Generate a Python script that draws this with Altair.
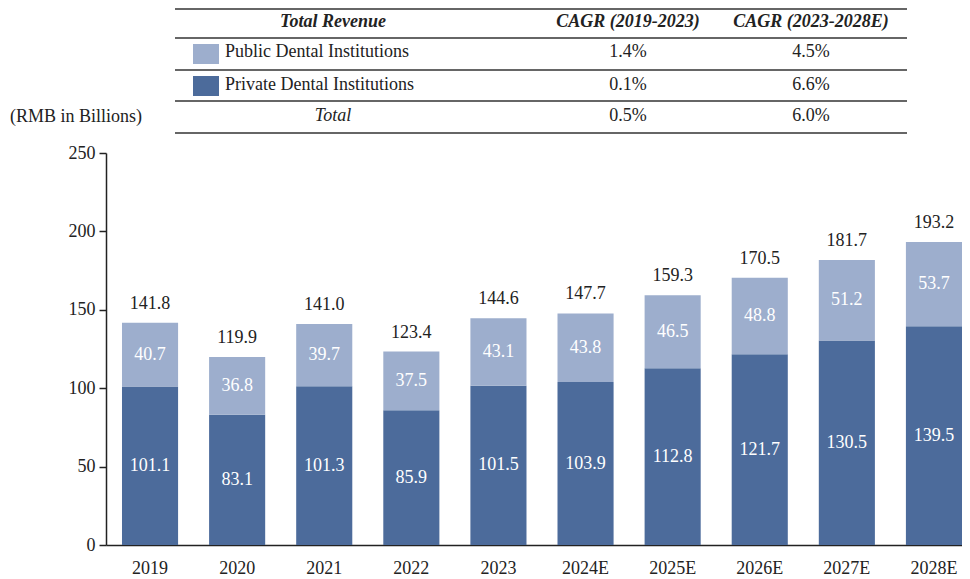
import altair as alt
import pandas as pd

# ---------------- data ----------------
years = ["2019", "2020", "2021", "2022", "2023", "2024E", "2025E", "2026E", "2027E", "2028E"]
private = [101.1, 83.1, 101.3, 85.9, 101.5, 103.9, 112.8, 121.7, 130.5, 139.5]
public = [40.7, 36.8, 39.7, 37.5, 43.1, 43.8, 46.5, 48.8, 51.2, 53.7]
totals = [141.8, 119.9, 141.0, 123.4, 144.6, 147.7, 159.3, 170.5, 181.7, 193.2]

segments = ["Public Dental Institutions", "Private Dental Institutions"]
seg_colors = ["#9daecd", "#4c6b9b"]

table_header = ["Total Revenue", "CAGR (2019-2023)", "CAGR (2023-2028E)"]
table_rows = ["Public Dental Institutions", "Private Dental Institutions", "Total"]
cagr_2019_2023 = ["1.4%", "0.1%", "0.5%"]
cagr_2023_2028 = ["4.5%", "6.6%", "6.0%"]
unit_label = "(RMB in Billions)"
y_ticks = [0, 50, 100, 150, 200, 250]

# ---------------- build tables ----------------
rows = []
for yr, pv, pb in zip(years, private, public):
    rows.append({"year": yr, "segment": segments[1], "start": 0.0, "end": pv, "value": pv})
    rows.append({"year": yr, "segment": segments[0], "start": pv, "end": pv + pb, "value": pb})
seg_df = pd.DataFrame(rows)
seg_df["mid"] = (seg_df["start"] + seg_df["end"]) / 2
seg_df["label"] = seg_df["value"].map(lambda v: f"{v:.1f}")

tot_df = pd.DataFrame({"year": years, "total": totals})
tot_df["label"] = tot_df["total"].map(lambda v: f"{v:.1f}")

SERIF = "Liberation Serif"
FS = 18
W, H = 856, 392

xscale = alt.Scale(domain=years, paddingInner=0.356, paddingOuter=0.0918, align=1)
yscale = alt.Scale(domain=[0, 250], nice=False)

x_enc = alt.X("year:N", scale=xscale, sort=years,
              axis=alt.Axis(title=None, labelAngle=0, ticks=False, labelFont=SERIF,
                            labelFontSize=FS, labelColor="#222", labelPadding=14,
                            domainColor="#222", domainWidth=1.5))

bars = alt.Chart(seg_df).mark_bar().encode(
    x=x_enc,
    y=alt.Y("start:Q", scale=yscale,
            axis=alt.Axis(title=None, values=y_ticks, grid=False, tickSize=7,
                          tickColor="#222", tickWidth=1.5, domainColor="#222",
                          domainWidth=1.5, labelFont=SERIF, labelFontSize=FS,
                          labelColor="#222", labelPadding=4)),
    y2="end:Q",
    color=alt.Color("segment:N", scale=alt.Scale(domain=segments, range=seg_colors), legend=None),
)

inner = alt.Chart(seg_df).mark_text(font=SERIF, fontSize=FS, color="white", baseline="middle").encode(
    x=alt.X("year:N", scale=xscale, sort=years),
    y=alt.Y("mid:Q", scale=yscale),
    text="label:N",
)

tops = alt.Chart(tot_df).mark_text(font=SERIF, fontSize=FS, color="#222", baseline="middle", dy=-19).encode(
    x=alt.X("year:N", scale=xscale, sort=years),
    y=alt.Y("total:Q", scale=yscale),
    text="label:N",
)


def txt(s, x, y, align="center", style="normal", weight="normal"):
    return alt.Chart(pd.DataFrame({"t": [s]})).mark_text(
        align=align, baseline="middle", font=SERIF, fontSize=FS,
        fontStyle=style, fontWeight=weight, color="#222"
    ).encode(x=alt.value(x), y=alt.value(y), text="t:N")


def hrule(y):
    return alt.Chart(pd.DataFrame({"a": [0]})).mark_rule(color="#333", strokeWidth=1.5).encode(
        x=alt.value(69), x2=alt.value(801), y=alt.value(y))


def swatch(y0, y1, c):
    return alt.Chart(pd.DataFrame({"a": [0]})).mark_rect(color=c).encode(
        x=alt.value(87), x2=alt.value(113), y=alt.value(y0), y2=alt.value(y1))


col_x = [227, 522, 705]
row_y = [-101, -68, -37]
layers = [bars, inner, tops]
for yy in [-144, -115, -83, -52, -20]:
    layers.append(hrule(yy))
for s, cx in zip(table_header, col_x):
    layers.append(txt(s, cx, -131, style="italic", weight="bold"))
layers.append(swatch(-109, -89, seg_colors[0]))
layers.append(swatch(-77, -57, seg_colors[1]))
layers.append(txt(table_rows[0], 119, row_y[0], align="left"))
layers.append(txt(table_rows[1], 119, row_y[1], align="left"))
layers.append(txt(table_rows[2], col_x[0], row_y[2], style="italic"))
for v1, v2, ry in zip(cagr_2019_2023, cagr_2023_2028, row_y):
    layers.append(txt(v1, col_x[1], ry))
    layers.append(txt(v2, col_x[2], ry))
layers.append(txt(unit_label, -96, -36, align="left"))

chart = alt.layer(*layers).properties(
    width=W, height=H,
    autosize=alt.AutoSizeParams(type="none"),
    padding={"left": 98, "top": 145, "right": 0, "bottom": 34},
    background="white",
).configure_view(stroke=None)

chart.save("out.html", embed_options={"renderer": "svg", "actions": False})
